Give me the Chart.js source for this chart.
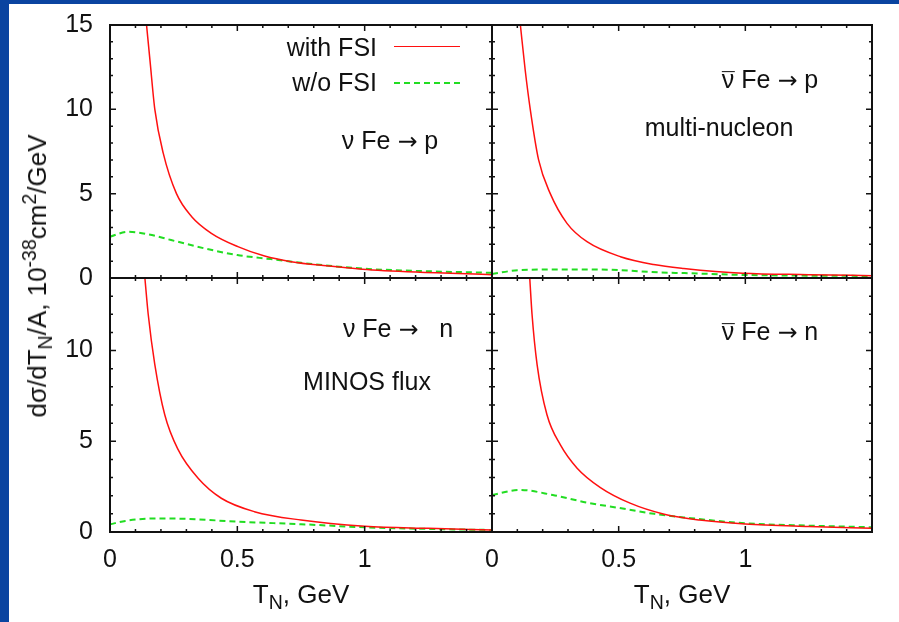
<!DOCTYPE html>
<html>
<head>
<meta charset="utf-8">
<script src="https://cdn.jsdelivr.net/npm/chart.js@4.4.1/dist/chart.umd.min.js"></script>
<style>
  html, body { margin: 0; padding: 0; }
  body { width: 899px; height: 622px; background: #0a44a0; position: relative; overflow: hidden;
         font-family: "Liberation Sans", Arial, sans-serif; color: #111; }
  #sheet { position: absolute; left: 9px; top: 4px; right: 0; bottom: 0; background: #fff; }
  canvas { position: absolute; }
  .lbl { position: absolute; font-size: 25px; white-space: pre; transform: translate(-50%, -50%); line-height: 1; }
  .title { font-size: 26px; }
  .lbl sub, .lbl sup { font-size: 0.75em; line-height: 0; }
  .ytitle { transform: translate(-50%, -50%) rotate(-90deg); }
  .arr { font-family: "DejaVu Sans", sans-serif; font-size: 0.95em; }
  .bar { display: inline-block; border-top: 1.5px solid currentColor; line-height: 0.62em; }
  .key { position: absolute; font-size: 25px; line-height: 1; transform: translateY(-50%); text-align: right; width: 120px; }
  .sample { position: absolute; width: 66px; height: 0; }
</style>
</head>
<body>
<div id="sheet"></div>
<canvas id="c-tl" width="452" height="283" style="left:50px;top:5px"></canvas>
<canvas id="c-tr" width="400" height="283" style="left:482px;top:5px"></canvas>
<canvas id="c-bl" width="452" height="318" style="left:50px;top:262px"></canvas>
<canvas id="c-br" width="400" height="318" style="left:482px;top:262px"></canvas>

<div class="lbl title ytitle" style="left:37px;top:276px">dσ/dT<sub>N</sub>/A, 10<sup>-38</sup>cm<sup>2</sup>/GeV</div>
<div class="lbl title" style="left:301px;top:594px">T<sub>N</sub>, GeV</div>
<div class="lbl title" style="left:682px;top:594px">T<sub>N</sub>, GeV</div>

<div class="lbl" style="left:390px;top:141px">ν Fe <span class="arr">→</span> p</div>
<div class="lbl" style="left:770px;top:80px"><span class="bar">ν</span> Fe <span class="arr">→</span> p</div>
<div class="lbl" style="left:719px;top:127px">multi-nucleon</div>
<div class="lbl" style="left:398px;top:329px">ν Fe <span class="arr">→</span>   n</div>
<div class="lbl" style="left:367px;top:381px">MINOS flux</div>
<div class="lbl" style="left:770px;top:332px"><span class="bar">ν</span> Fe <span class="arr">→</span> n</div>

<div class="key" id="key0" style="left:257px;top:47px"></div>
<div class="sample" style="left:394px;top:46px;border-top:1.5px solid #ff1010"></div>
<div class="key" id="key1" style="left:257px;top:82px"></div>
<div class="sample" style="left:394px;top:82px;border-top:2px dashed #22dd22"></div>

<script>
// --- DATA ---
const seriesLabels = ['with FSI', 'w/o FSI'];
const xLabelTicks = [0, 0.5, 1];
const yLabelStep = 5;

// nu Fe -> p
const nuP_withT = [0.1435, 0.157, 0.176, 0.209, 0.261, 0.320, 0.398, 0.502, 0.607, 0.711, 0.85, 0.99, 1.2, 1.5];
const nuP_with  = [15, 12.9, 10.0, 7.4, 5.0, 3.65, 2.65, 1.86, 1.3, 0.97, 0.72, 0.52, 0.35, 0.2];
const nuP_woT   = [0, 0.07, 0.15, 0.24, 0.37, 0.5, 0.63, 0.75, 1.0, 1.25, 1.5];
const nuP_wo    = [2.45, 2.74, 2.59, 2.25, 1.76, 1.36, 1.12, 0.9, 0.55, 0.4, 0.31];

// anti-nu Fe -> p
const anuP_withT = [0.112, 0.131, 0.151, 0.184, 0.230, 0.296, 0.375, 0.507, 0.638, 0.757, 0.99, 1.25, 1.5];
const anuP_with  = [15, 12.33, 10.0, 7.0, 5.0, 3.24, 2.15, 1.26, 0.8, 0.57, 0.28, 0.2, 0.14];
const anuP_woT   = [0, 0.11, 0.31, 0.5, 0.66, 0.76, 1.0, 1.5];
const anuP_wo    = [0.24, 0.47, 0.51, 0.47, 0.33, 0.29, 0.18, 0.12];

// nu Fe -> n
const nuN_withT = [0.137, 0.150, 0.176, 0.215, 0.267, 0.346, 0.437, 0.567, 0.75, 1.0, 1.25, 1.5];
const nuN_with  = [14, 12.0, 9.23, 6.46, 4.55, 2.96, 1.86, 1.12, 0.66, 0.32, 0.2, 0.11];
const nuN_woT   = [0, 0.06, 0.18, 0.31, 0.5, 0.75, 1.0, 1.25, 1.5];
const nuN_wo    = [0.42, 0.61, 0.75, 0.72, 0.57, 0.43, 0.26, 0.17, 0.11];

// anti-nu Fe -> n
const anuN_withT = [0.149, 0.158, 0.178, 0.217, 0.27, 0.336, 0.428, 0.545, 0.68, 0.82, 1.0, 1.25, 1.5];
const anuN_with  = [14, 12.0, 9.23, 6.46, 4.8, 3.52, 2.45, 1.59, 0.98, 0.66, 0.44, 0.3, 0.2];
const anuN_woT   = [0, 0.11, 0.24, 0.375, 0.5, 0.64, 0.76, 1.0, 1.25, 1.5];
const anuN_wo    = [2.04, 2.32, 2.04, 1.62, 1.33, 1.0, 0.8, 0.48, 0.35, 0.26];

// --- STYLE ---
const INK = '#111';
const RED = '#ff1010';
const GREEN = '#22dd22';
const FONT = { family: '"Liberation Sans", Arial, sans-serif', size: 25 };

const pts = (xs, ys) => xs.map((x, i) => ({ x, y: ys[i] }));
const isMult = (v, step) => Math.abs(v / step - Math.round(v / step)) < 1e-6;

// gnuplot style frame with inward, mirrored ticks
const gnuFrame = {
    id: 'gnuFrame',
    afterDatasetsDraw(chart) {
        const { ctx, chartArea: a, scales: { x, y } } = chart;
        ctx.save();
        ctx.strokeStyle = INK;
        ctx.lineWidth = 1.5;
        ctx.beginPath();
        x.ticks.forEach(t => {
            const px = x.getPixelForValue(t.value);
            const len = isMult(t.value, 0.5) ? 6 : 3;
            ctx.moveTo(px, a.bottom); ctx.lineTo(px, a.bottom - len);
            ctx.moveTo(px, a.top); ctx.lineTo(px, a.top + len);
        });
        y.ticks.forEach(t => {
            const py = y.getPixelForValue(t.value);
            const len = isMult(t.value, yLabelStep) ? 6 : 3;
            ctx.moveTo(a.left, py); ctx.lineTo(a.left + len, py);
            ctx.moveTo(a.right, py); ctx.lineTo(a.right - len, py);
        });
        ctx.stroke();
        ctx.lineWidth = 2;
        ctx.strokeRect(a.left, a.top, a.right - a.left, a.bottom - a.top);
        ctx.restore();
    }
};

// fixed axis sizes, no label overflow padding: the panels must line up exactly
const fixSize = (s, size) => {
    if (s.isHorizontal()) s.height = size; else s.width = size;
    s.paddingTop = s.paddingBottom = s.paddingLeft = s.paddingRight = 0;
};

const makePanel = (id, opt) => {
    const datasets = [
        { label: seriesLabels[0], data: pts(opt.withT, opt.withY), borderColor: RED, borderWidth: 1.5 },
        { label: seriesLabels[1], data: pts(opt.woT, opt.woY), borderColor: GREEN, borderWidth: 2, borderDash: [6, 4] }
    ];
    datasets.forEach(d => {
        d.pointRadius = 0;
        d.fill = false;
        d.cubicInterpolationMode = 'monotone';
    });
    return new Chart(document.getElementById(id), {
        type: 'line',
        data: { datasets },
        options: {
            responsive: false,
            animation: false,
            events: [],
            layout: { padding: opt.padding },
            plugins: { legend: { display: false }, tooltip: { enabled: false } },
            scales: {
                x: {
                    type: 'linear', min: 0, max: 1.5,
                    grid: { display: false, drawTicks: false },
                    border: { display: false },
                    ticks: {
                        display: opt.xLabels, stepSize: 0.1, autoSkip: false, maxRotation: 0,
                        padding: 13, color: INK, font: FONT,
                        callback: v => xLabelTicks.some(t => Math.abs(t - v) < 1e-6) ? String(Math.round(v * 10) / 10) : ''
                    },
                    afterFit: s => fixSize(s, opt.xHeight)
                },
                y: {
                    min: 0, max: opt.yMax,
                    grid: { display: false, drawTicks: false },
                    border: { display: false },
                    ticks: {
                        display: opt.yLabels, stepSize: 1, autoSkip: false,
                        padding: 17, color: INK, font: FONT,
                        callback: v => isMult(v, yLabelStep) ? String(v) : ''
                    },
                    afterFit: s => fixSize(s, opt.yWidth)
                }
            }
        },
        plugins: [gnuFrame]
    });
};

document.getElementById('key0').textContent = seriesLabels[0];
document.getElementById('key1').textContent = seriesLabels[1];

makePanel('c-tl', { withT: nuP_withT, withY: nuP_with, woT: nuP_woT, woY: nuP_wo, yMax: 15,
    xLabels: false, yLabels: true, xHeight: 10, yWidth: 60, padding: { top: 20, right: 10, left: 0, bottom: 0 } });
makePanel('c-tr', { withT: anuP_withT, withY: anuP_with, woT: anuP_woT, woY: anuP_wo, yMax: 15,
    xLabels: false, yLabels: false, xHeight: 10, yWidth: 10, padding: { top: 20, right: 10, left: 0, bottom: 0 } });
makePanel('c-bl', { withT: nuN_withT, withY: nuN_with, woT: nuN_woT, woY: nuN_wo, yMax: 14,
    xLabels: true, yLabels: true, xHeight: 48, yWidth: 60, padding: { top: 16, right: 10, left: 0, bottom: 0 } });
makePanel('c-br', { withT: anuN_withT, withY: anuN_with, woT: anuN_woT, woY: anuN_wo, yMax: 14,
    xLabels: true, yLabels: false, xHeight: 48, yWidth: 10, padding: { top: 16, right: 10, left: 0, bottom: 0 } });
</script>
</body>
</html>
